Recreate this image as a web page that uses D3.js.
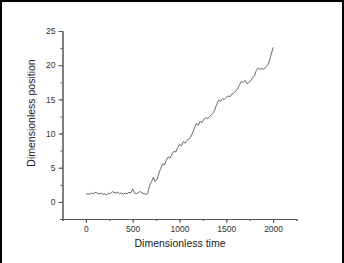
<!DOCTYPE html>
<html>
<head>
<meta charset="utf-8">
<script src="https://cdn.jsdelivr.net/npm/d3@7"></script>
<style>
  body { margin: 0; background: #fff; }
  svg { display: block; }
</style>
</head>
<body>
<div class="box"></div>
<script>
// temps (pas de 20) et position
const temps = d3.range(0, 2001, 20);
const position = [
  1.1, 1.2, 1.1, 1.3, 1.2, 1.4, 1.3, 1.2, 1.3, 1.1,
  1.2, 1.0, 1.3, 1.2, 1.5, 1.4, 1.3, 1.4, 1.2, 1.3,
  1.1, 1.3, 1.2, 1.4, 1.3, 1.9, 1.3, 1.2, 1.4, 1.5,
  1.3, 1.2, 1.1, 1.2, 2.4, 2.9, 3.6, 3.0, 3.3, 4.2,
  4.9, 5.6, 5.4, 6.1, 6.6, 6.4, 7.0, 7.4, 7.3, 7.9,
  8.4, 8.2, 8.8, 8.6, 9.0, 9.2, 9.5, 10.1, 10.8, 11.5,
  11.2, 11.8, 11.6, 12.1, 12.3, 12.2, 12.5, 12.7, 13.0, 13.6,
  14.4, 14.9, 14.7, 15.1, 15.0, 15.3, 15.5, 15.4, 15.8, 15.9,
  16.2, 16.5, 17.1, 17.6, 17.5, 17.8, 17.3, 17.5, 17.7, 18.2,
  18.4, 19.2, 19.6, 19.4, 19.5, 19.4, 19.7, 20.0, 20.6, 21.6,
  22.6
];
const xTicks = [0, 500, 1000, 1500, 2000];
const yTicks = [0, 5, 10, 15, 20, 25];

const dims = {width: 344, height: 263};

const svg = d3.select('.box')
              .append('svg')
              .attr('width', dims.width)
              .attr('height', dims.height);

// cadre noir (gauche, haut, droite)
svg.append('path')
   .attr('d', `M1,${dims.height} V1 H${dims.width - 1} V${dims.height}`)
   .attr('fill', 'none')
   .attr('stroke', '#000')
   .attr('stroke-width', 2);

const x = d3.scaleLinear().domain([-250, 2250]).range([62.5, 296.5]);
const y = d3.scaleLinear().domain([-2.5, 25]).range([219, 31]);

const axisCol = '#555';
const txtCol = '#333';

// axes mineurs
const xMinor = d3.axisBottom(x).tickValues(d3.range(-250, 2251, 250)).tickSize(2).tickFormat('');
const yMinor = d3.axisLeft(y).tickValues(d3.range(-2.5, 25.1, 2.5)).tickSize(2).tickFormat('');

svg.append('g').attr('transform', `translate(0, ${y(-2.5)})`).call(xMinor);
svg.append('g').attr('transform', `translate(${x(-250)}, 0)`).call(yMinor);

svg.append('g')
   .attr('transform', `translate(0, ${y(-2.5)})`)
   .call(d3.axisBottom(x).tickValues(xTicks).tickFormat(d3.format('d'))
           .tickSize(4).tickPadding(3).tickSizeOuter(0));
svg.append('g')
   .attr('transform', `translate(${x(-250)}, 0)`)
   .call(d3.axisLeft(y).tickValues(yTicks).tickFormat(d3.format('d'))
           .tickSize(4).tickPadding(3).tickSizeOuter(0));

svg.selectAll('.domain, .tick line')
   .attr('stroke', axisCol)
   .attr('stroke-width', 1);
svg.selectAll('.tick text')
   .attr('fill', txtCol)
   .style('font-family', 'Liberation Sans, Arial, sans-serif')
   .style('font-size', '8.5px');

// courbe
const line = d3.line()
               .x((d, i) => x(temps[i]))
               .y(d => y(d));

svg.append('path')
   .datum(position)
   .attr('d', line)
   .attr('fill', 'none')
   .attr('stroke', '#444')
   .attr('stroke-width', 0.8);

// titres des axes
svg.append('text')
   .attr('x', 180)
   .attr('y', 247)
   .attr('text-anchor', 'middle')
   .attr('fill', '#222')
   .style('font-family', 'Liberation Sans, Arial, sans-serif')
   .style('font-size', '10.5px')
   .text('Dimensionless time');

svg.append('text')
   .attr('transform', 'translate(35, 113) rotate(-90)')
   .attr('text-anchor', 'middle')
   .attr('fill', '#222')
   .style('font-family', 'Liberation Sans, Arial, sans-serif')
   .style('font-size', '10.5px')
   .text('Dimensionless position');
</script>
</body>
</html>
